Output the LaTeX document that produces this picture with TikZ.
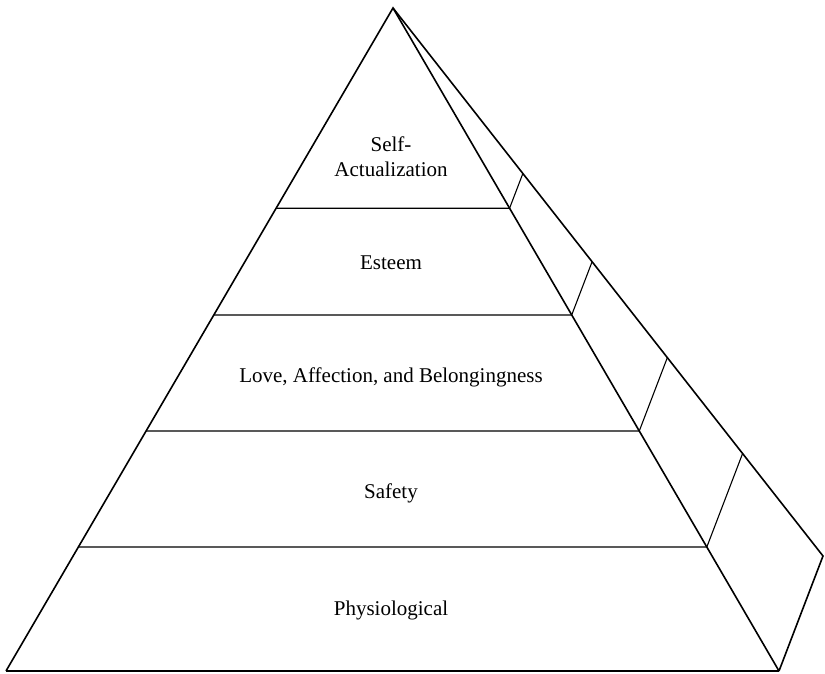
\documentclass[tikz,border=0pt]{standalone}
\usepackage{fontspec}
\setmainfont{Liberation Serif}
\usetikzlibrary{calc}

\tikzset{
	edge/.style={line width=1.6pt},
	layer/.style={line width=1.1pt},
	level/.style={font=\fontsize{21}{25}\selectfont, align=center}
}

\begin{document}
\begin{tikzpicture}[x=1pt,y=-1pt]
	\useasboundingbox (0,0) rectangle (825,674);
	
	\coordinate (apex) at (393,8);
	\coordinate (bl) at (6,671);
	\coordinate (br) at (779,671);
	\coordinate (back) at (823,556);
	
	% front face and side face
	\draw[edge] (bl) -- (apex) -- (br);
	\draw[edge] (bl) -- (br);
	\draw[edge] (apex) -- (back) -- (br);
	
	% layers
	\foreach \t in {0.302,0.463,0.638,0.813}{
		\draw[layer] ($(apex)!\t!(bl)$) -- ($(apex)!\t!(br)$) -- ($(apex)!\t!(back)$);
	}
	
	\node[level] (selfact) at (391,157) {Self-\\Actualization};
	\node[level] (esteem) at (391,263) {Esteem};
	\node[level] (love) at (391,377) {Love, Affection, and Belongingness};
	\node[level] (safety) at (391,493) {Safety};
	\node[level] (physio) at (391,610) {Physiological};
\end{tikzpicture}
\end{document}
